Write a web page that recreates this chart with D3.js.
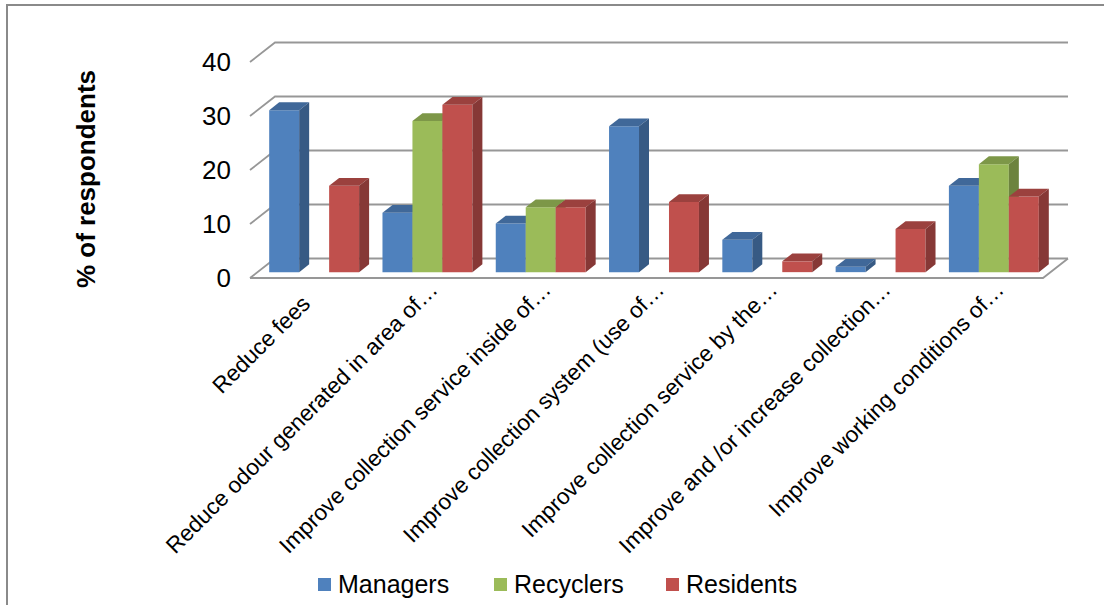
<!DOCTYPE html>
<html>
<head>
<meta charset="utf-8">
<script src="https://cdn.jsdelivr.net/npm/d3@7"></script>
<style>
  html, body { margin: 0; padding: 0; background: #fff; }
  svg { display: block; font-family: "Liberation Sans", Arial, sans-serif; }
</style>
</head>
<body>
<svg id="chart" width="1104" height="605"></svg>
<script>
const categories = [
  "Reduce fees",
  "Reduce odour generated in area of…",
  "Improve collection service inside of…",
  "Improve collection system (use of…",
  "Improve collection service by the…",
  "Improve and /or increase collection…",
  "Improve working conditions of…"
];
const seriesNames = ["Managers", "Recyclers", "Residents"];
const managers  = [30, 11, 9, 27, 6, 1, 16];
const recyclers = [0, 28, 12, 0, 0, 0, 20];
const residents = [16, 31, 12, 13, 2, 8, 14];
const yTicks = [0, 10, 20, 30, 40];
const colors = ["#4F81BD", "#9BBB59", "#C0504D"];

const seriesValues = [managers, recyclers, residents];

const svg = d3.select("#chart");

// border (left & top)
svg.append("path")
  .attr("d", "M7,605 L7,5 L1104,5")
  .attr("fill", "none")
  .attr("stroke", "#8a8a8a")
  .attr("stroke-width", 2);

// scales
const x = d3.scaleBand().domain(categories).range([250, 1043]);
const xs = d3.scaleBand().domain(seriesNames).range([0, x.bandwidth()]).paddingOuter(0.39);
const y = d3.scaleLinear().domain([0, 40]).range([278, 62]);
const DX = 25, DY = -19.5;
const proj = (px, v, d) => [px + DX * d, y(v) + DY * d];
const line = d3.line();

const grid = svg.append("g");
const [xl, xr] = x.range();
yTicks.forEach(v => {
  grid.append("path")
    .attr("d", line([proj(xl, v, 0), proj(xl, v, 1), proj(xr, v, 1)]))
    .attr("fill", "none").attr("stroke", "#979797").attr("stroke-width", 1.8);
});
// floor front and right edges
grid.append("path")
  .attr("d", line([proj(xl, 0, 0), proj(xr, 0, 0), proj(xr, 0, 1)]))
  .attr("fill", "none").attr("stroke", "#979797").attr("stroke-width", 1.8);

// y tick labels
svg.append("g").selectAll("text").data(yTicks).join("text")
  .attr("x", 231).attr("y", d => y(d) + 2)
  .attr("text-anchor", "end").attr("dominant-baseline", "middle")
  .attr("font-size", 26).attr("fill", "#000")
  .text(d => d);

// bars
const d0 = 0.3, d1 = 0.7;
const bars = svg.append("g");
categories.forEach((c, ci) => {
  seriesNames.forEach((s, si) => {
    const v = seriesValues[si][ci];
    if (!v) return;
    const bx = x(c) + xs(s), w = xs.bandwidth();
    const col = d3.rgb(colors[si]);
    const g = bars.append("g");
    g.append("path").attr("d", line([proj(bx, v, d0), proj(bx + w, v, d0), proj(bx + w, 0, d0), proj(bx, 0, d0)]) + "Z")
      .attr("fill", col.formatHex());
    g.append("path").attr("d", line([proj(bx, v, d0), proj(bx + w, v, d0), proj(bx + w, v, d1), proj(bx, v, d1)]) + "Z")
      .attr("fill", col.darker(0.6).formatHex());
    g.append("path").attr("d", line([proj(bx + w, v, d0), proj(bx + w, v, d1), proj(bx + w, 0, d1), proj(bx + w, 0, d0)]) + "Z")
      .attr("fill", col.darker(1.0).formatHex());
  });
});

// category labels
svg.append("g").selectAll("text").data(categories).join("text")
  .attr("transform", d => `translate(${x(d) + x.bandwidth() / 2 + 19},291) rotate(-45)`)
  .attr("dx", d => d.endsWith("…") ? 0 : -20)
  .attr("text-anchor", "end")
  .attr("font-size", 22.6).attr("fill", "#000")
  .text(d => d);

// y axis title
svg.append("text")
  .attr("transform", "translate(95,179) rotate(-90)")
  .attr("text-anchor", "middle")
  .attr("font-size", 26).attr("font-weight", "bold")
  .text("% of respondents");

// legend
const legendX = [318, 494, 666];
const lg = svg.append("g");
seriesNames.forEach((s, i) => {
  lg.append("rect").attr("x", legendX[i]).attr("y", 578).attr("width", 13).attr("height", 13).attr("fill", colors[i]);
  lg.append("text").attr("x", legendX[i] + 20).attr("y", 593).attr("font-size", 25).text(s);
});
</script>
</body>
</html>
